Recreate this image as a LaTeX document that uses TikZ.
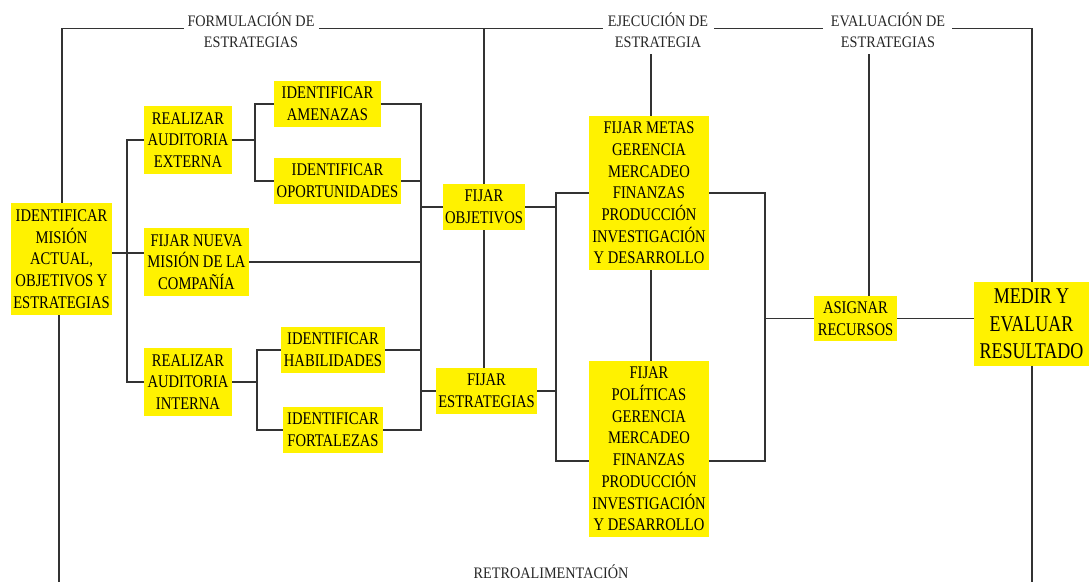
\documentclass[tikz,border=0pt]{standalone}
\usepackage{fontspec}
\setmainfont{Liberation Serif}
\newfontfamily\boxfont{Liberation Serif}[FakeStretch=0.82]
\newfontfamily\labfont{Liberation Serif}[FakeStretch=0.89]
\newfontfamily\medfont{Liberation Serif}[FakeStretch=0.80]
\begin{document}
\begin{tikzpicture}[x=1pt,y=-1pt,
  box/.style={fill=yellow, inner sep=0pt, align=center, text=black,
    font=\boxfont\fontsize{17.8}{21.7}\selectfont},
  lab/.style={inner sep=0pt, align=center, text=black!85,
    font=\labfont\fontsize{16}{21}\selectfont},
  ln/.style={draw=black!80, line width=1.3pt}]
\fill[white] (0,0) rectangle (1089,582);
\useasboundingbox (0,0) rectangle (1089,582);

% boxes
\node[box, minimum width=101pt, minimum height=112pt] (mision) at (61.5,259) {IDENTIFICAR\\MISIÓN\\ACTUAL,\\OBJETIVOS Y\\ESTRATEGIAS};
\node[box, minimum width=88pt, minimum height=68pt] (externa) at (188,140) {REALIZAR\\AUDITORIA\\EXTERNA};
\node[box, minimum width=107pt, minimum height=46pt] (amenazas) at (327.5,104) {IDENTIFICAR\\AMENAZAS};
\node[box, minimum width=127pt, minimum height=46pt] (oport) at (337.5,181) {IDENTIFICAR\\OPORTUNIDADES};
\node[box, minimum width=105pt, minimum height=68pt] (nueva) at (196.5,262) {FIJAR NUEVA\\MISIÓN DE LA\\COMPAÑÍA};
\node[box, minimum width=88pt, minimum height=68pt] (interna) at (188,382) {REALIZAR\\AUDITORIA\\INTERNA};
\node[box, minimum width=104pt, minimum height=46pt] (habil) at (333,350) {IDENTIFICAR\\HABILIDADES};
\node[box, minimum width=100pt, minimum height=46pt] (fort) at (333,430) {IDENTIFICAR\\FORTALEZAS};
\node[box, minimum width=82pt, minimum height=46pt] (objet) at (484,207) {FIJAR\\OBJETIVOS};
\node[box, minimum width=101pt, minimum height=46pt] (estrat) at (486.5,391) {FIJAR\\ESTRATEGIAS};
\node[box, minimum width=120pt, minimum height=154pt] (metas) at (649,193) {FIJAR METAS\\GERENCIA\\MERCADEO\\FINANZAS\\PRODUCCIÓN\\INVESTIGACIÓN\\Y DESARROLLO};
\node[box, minimum width=120pt, minimum height=176pt] (polit) at (649,449) {FIJAR\\POLÍTICAS\\GERENCIA\\MERCADEO\\FINANZAS\\PRODUCCIÓN\\INVESTIGACIÓN\\Y DESARROLLO};
\node[box, minimum width=83pt, minimum height=45pt] (asignar) at (855.5,318.5) {ASIGNAR\\RECURSOS};
\node[box, minimum width=115pt, minimum height=84pt, font=\medfont\fontsize{22.5}{27.7}\selectfont] (medir) at (1031.5,324) {MEDIR Y\\EVALUAR\\RESULTADO};

% labels
\node[lab] (formul) at (251,30) {FORMULACIÓN DE\\ESTRATEGIAS};
\node[lab] (ejec) at (658,30) {EJECUCIÓN DE\\ESTRATEGIA};
\node[lab] (evalu) at (888,30) {EVALUACIÓN DE\\ESTRATEGIAS};
\node[lab, anchor=base] (retro) at (551,578) {RETROALIMENTACIÓN};

% coordinates
\coordinate (tl) at (62,28.5);
\coordinate (tr) at (1032,28.5);
\coordinate (g1) at (184,28.5);
\coordinate (g2) at (319,28.5);
\coordinate (g3) at (603,28.5);
\coordinate (g4) at (714,28.5);
\coordinate (g5) at (823,28.5);
\coordinate (g6) at (952,28.5);
\coordinate (e1) at (651,54);
\coordinate (v1) at (869,54);
\coordinate (bl) at (59,582);
\coordinate (br) at (1032,582);
\coordinate (b1) at (127,253);
\coordinate (b2) at (255,140);
\coordinate (b3) at (257,382);
\coordinate (b4) at (421,207);
\coordinate (b5) at (556,300);
\coordinate (b6) at (765,318.5);
\coordinate (pb) at (0,461);
\coordinate (mv) at (651,0);

% frame
\draw[ln] (mision.north -| tl) -- (tl) -- (g1);
\draw[ln] (g2) -- (g3);
\draw[ln] (g4) -- (g5);
\draw[ln] (g6) -- (tr) -- (medir.north -| tr);
\draw[ln] (mision.south -| bl) -- (bl);
\draw[ln] (medir.south -| br) -- (br);
\draw[ln] (objet.north) -- (objet.north |- g2);
\draw[ln] (e1) -- (e1 |- metas.north);
\draw[ln] (v1) -- (v1 |- asignar.north);

% left tree
\draw[ln] (mision.east |- b1) -- (nueva.west |- b1);
\draw[ln] (externa.west) -| (b1) |- (interna.west);
\draw[ln] (externa.east) -- (b2);
\draw[ln] (amenazas.west) -| (b2) |- (oport.west);
\draw[ln] (interna.east) -- (b3);
\draw[ln] (habil.west) -| (b3) |- (fort.west);

% collector
\draw[ln] (amenazas.east) -| (b4) |- (fort.east);
\draw[ln] (oport.east) -- (oport.east -| b4);
\draw[ln] (nueva.east) -- (nueva.east -| b4);
\draw[ln] (habil.east) -- (habil.east -| b4);
\draw[ln] (b4 |- objet.west) -- (objet.west);
\draw[ln] (b4 |- estrat.west) -- (estrat.west);
\draw[ln] (objet.south) -- (objet.south |- estrat.north);

% execution
\draw[ln] (objet.east) -- (objet.east -| b5);
\draw[ln] (estrat.east) -- (estrat.east -| b5);
\draw[ln] (metas.west) -| (b5 |- pb) -- (polit.west |- pb);
\draw[ln] (metas.east) -| (b6 |- pb) -- (polit.east |- pb);
\draw[ln] (mv |- metas.south) -- (mv |- polit.north);
\draw[ln] (b6) -- (asignar.west);
\draw[ln] (asignar.east) -- (medir.west |- asignar.east);
\end{tikzpicture}
\end{document}
